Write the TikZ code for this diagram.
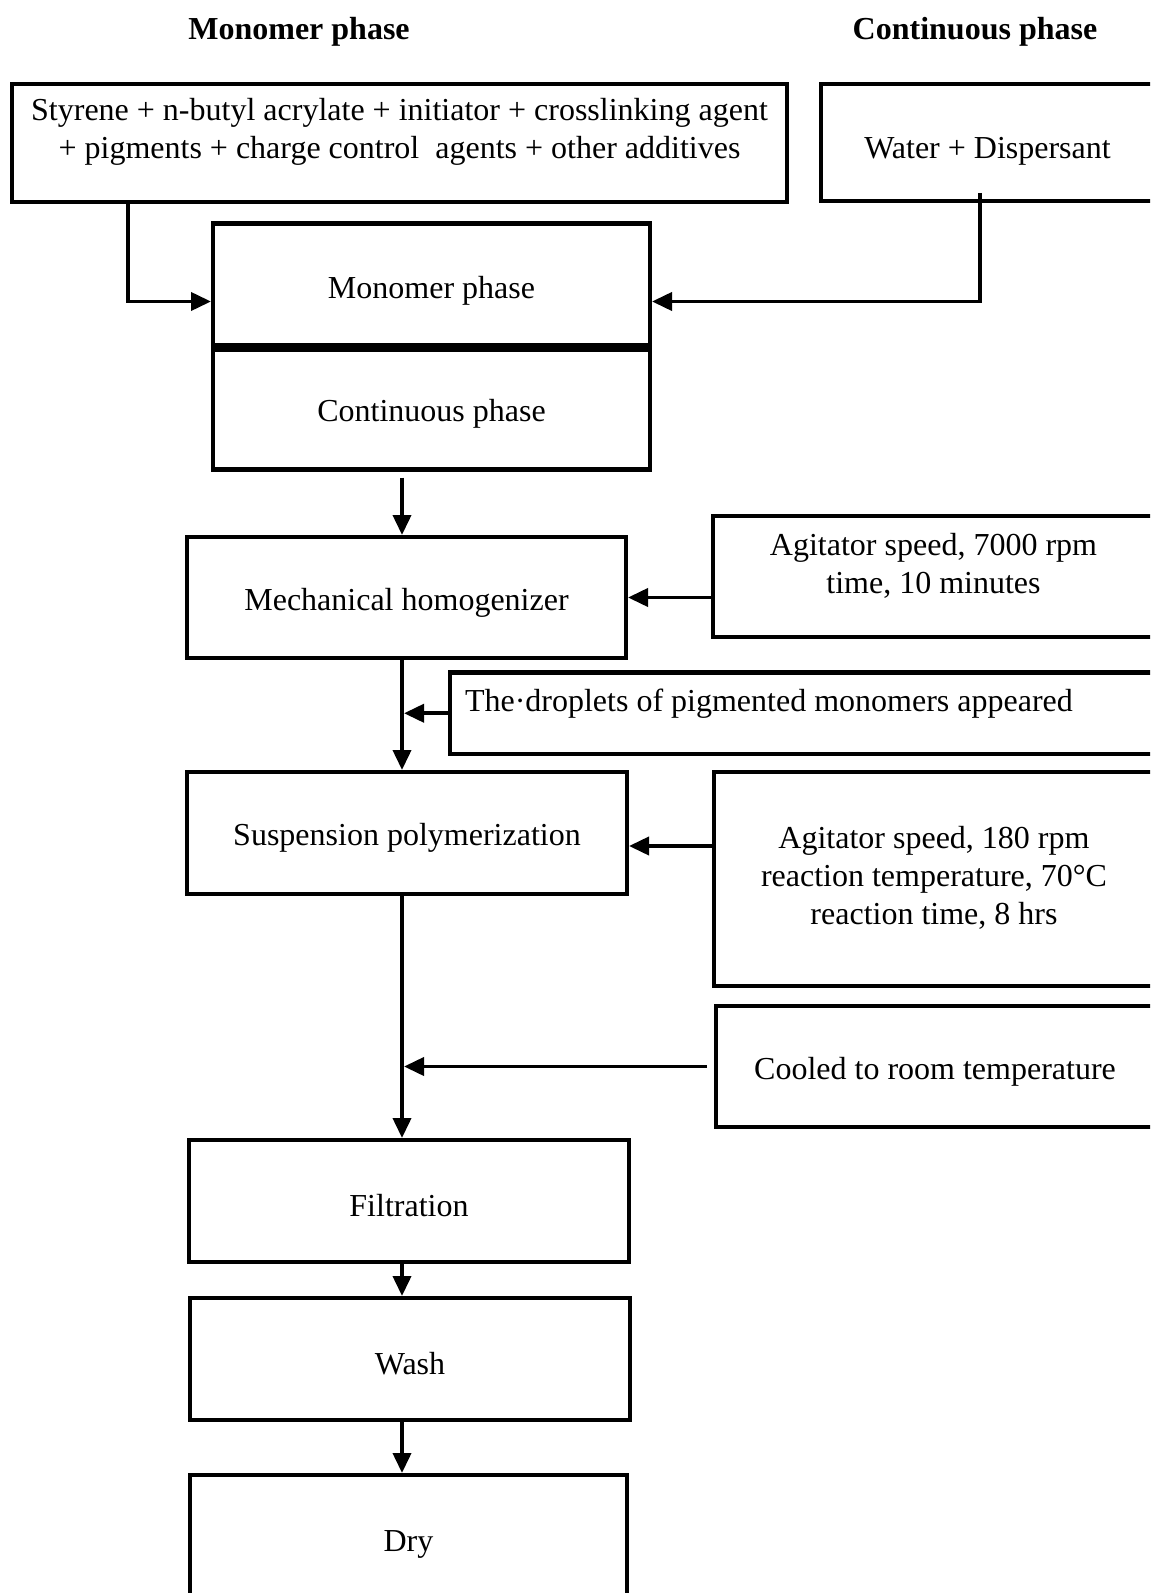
\documentclass[tikz,border=0pt]{standalone}
\usepackage{fontspec}
\setmainfont{Liberation Serif}
\usetikzlibrary{arrows.meta,positioning}

\begin{document}
\begin{tikzpicture}[x=0.5pt,y=-0.5pt,
    box/.style={draw, line width=2.2pt, outer sep=0pt, inner sep=0pt, align=center,
        font=\fontsize{16}{19}\selectfont},
    oneline/.style={box, text height=16pt},
    heading/.style={font=\fontsize{16}{19}\selectfont\bfseries},
    flow/.style={-{Triangle[length=10pt,width=9pt]}, line width=1.9pt, shorten >=1pt}]
    \useasboundingbox (0,0) rectangle (1150,1593);
    \clip (0,0) rectangle (1150,1593);

    % Headings
    \node[heading] (headM) at (299,31.5) {Monomer phase};
    \node[heading] (headC) at (975,31.5) {Continuous phase};

    % Feed boxes
    \node[box, minimum width=387.5pt, minimum height=59pt, text depth=14.5pt] (ingr) at (399.5,143)
        {Styrene + n-butyl acrylate + initiator + crosslinking agent\\+ pigments + charge control~ agents + other additives};
    \node[oneline, minimum width=166.5pt, minimum height=58.5pt, text height=19pt] (water) at (987.5,142.5)
        {Water + Dispersant};

    % Both phases
    \node[oneline, minimum width=218.5pt, minimum height=62pt] (mono) at (431.5,285.5) {Monomer phase};
    \node[oneline, minimum width=218.5pt, minimum height=61pt, below=0pt of mono] (cont) {Continuous phase};
    \draw[line width=4.5pt] (mono.south west) -- (mono.south east);

    % Main steps
    \node[oneline, minimum width=219.5pt, minimum height=60.5pt] (homog) at (406.5,597.5) {Mechanical homogenizer};
    \node[oneline, minimum width=220pt, minimum height=61pt] (susp) at (407,833) {Suspension polymerization};
    \node[oneline, minimum width=220pt, minimum height=61pt] (filt) at (409,1201) {Filtration};
    \node[oneline, minimum width=220pt, minimum height=61pt] (wash) at (410,1359) {Wash};
    \node[oneline, minimum width=218.5pt, minimum height=63.5pt] (dry) at (408.5,1538.5) {Dry};

    % Conditions
    \node[box, minimum width=220.5pt, minimum height=60.5pt, text depth=13.5pt] (agit1) at (933.5,576.5)
        {Agitator speed, 7000 rpm\\time, 10 minutes};
    \node[box, minimum height=40.75pt, text width=337pt, inner xsep=7.5pt, align=flush left,
        text height=11pt, text depth=13pt] (drop) at (802,713.25)
        {The·droplets of pigmented monomers appeared};
    \node[box, minimum width=220pt, minimum height=107pt, text depth=4pt] (agit2) at (934,879)
        {Agitator speed, 180 rpm\\reaction temperature, 70°C\\reaction time, 8 hrs};
    \node[oneline, minimum width=219pt, minimum height=60.5pt] (cool) at (935,1066.5) {Cooled to room temperature};

    % Arrows
    \coordinate (col) at (402,0);
    \coordinate (itap) at (128,202);
    \coordinate (wtap) at (980,193);
    \coordinate (suspin) at ([yshift=-6.5pt]susp.east);
    \draw[flow] (itap) |- ([yshift=-8pt]mono.west);
    \draw[flow] (wtap) |- ([yshift=-8pt]mono.east);
    \draw[flow] ([yshift=-4pt]cont.south -| col) -- (homog.north -| col);
    \draw[flow] (agit1.west |- homog.east) -- (homog.east);
    \draw[flow] (homog.south -| col) -- (susp.north -| col);
    \draw[flow] (drop.west) -- (drop.west -| col);
    \draw[flow] (agit2.west |- suspin) -- (suspin);
    \draw[flow] (susp.south -| col) -- (filt.north -| col);
    \draw[flow] ([xshift=-4.5pt]cool.west) -- (cool.west -| col);
    \draw[flow] (filt.south -| col) -- (wash.north -| col);
    \draw[flow] (wash.south -| col) -- (dry.north -| col);
\end{tikzpicture}
\end{document}
